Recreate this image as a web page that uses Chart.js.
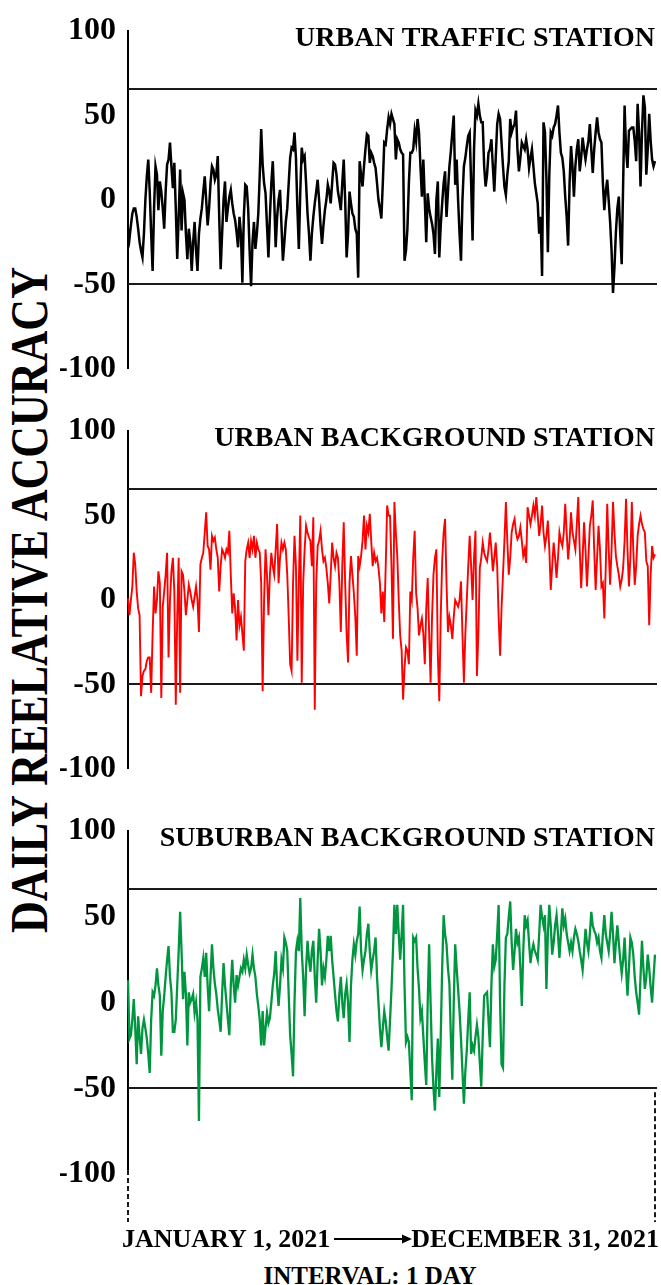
<!DOCTYPE html>
<html>
<head>
<meta charset="utf-8">
<script src="https://cdn.jsdelivr.net/npm/chart.js"></script>
<style>
  html, body { margin: 0; padding: 0; background: #fff; }
  #page { position: relative; width: 661px; height: 1285px; overflow: hidden; font-family: "Liberation Serif", "Times New Roman", serif; font-weight: bold; color: #000; }
  canvas { position: absolute; left: 60px; }
  #yTitle { position: absolute; left: 30px; top: 600px; font-size: 44px; line-height: 44px; white-space: nowrap; transform: translate(-50%, -50%) rotate(-90deg) scaleY(1.18); }
  .xText { position: absolute; font-size: 26px; line-height: 26px; white-space: nowrap; }
</style>
</head>
<body>
<div id="page">
  <canvas id="chart1" width="601" height="400" style="top:0px"></canvas>
  <canvas id="chart2" width="601" height="400" style="top:400px"></canvas>
  <canvas id="chart3" width="601" height="430" style="top:800px"></canvas>
  <div id="yTitle">DAILY REELATIVE ACCURACY</div>
  <div class="xText" id="xStart" style="left:122px; top:1226px">JANUARY 1, 2021</div>
  <svg style="position:absolute; left:334px; top:1232px" width="78" height="14">
    <line x1="0" y1="7" x2="70" y2="7" stroke="#000" stroke-width="2"></line>
    <polygon points="68,2.5 78,7 68,11.5" fill="#000"></polygon>
  </svg>
  <div class="xText" id="xEnd" style="right:2px; top:1226px">DECEMBER 31, 2021</div>
  <div class="xText" id="xInterval" style="left:370px; top:1263px; font-size:25px; transform:translateX(-50%)">INTERVAL: 1 DAY</div>
</div>
<script>
// daily relative accuracy, Jan 1 - Dec 31 2021
const urbanTraffic = [
  -17,-23,-15,-8,-5,-5,-10,-17,-25,-30,
  -34,-20,0,14,24,5,-20,-42,-5,20,
  15,-6,11,5,-5,-17,5,21,24,34,
  20,7,22,-5,-35,-10,18,-18,4,0,
  -20,-35,-17,-25,-42,-25,-13,-30,-42,-20,
  -11,-5,5,14,0,-15,-5,10,20,18,
  12,15,26,-10,-41,-20,0,11,-13,-5,
  2,6,-2,-8,-12,-19,-28,-10,-20,-49,
  -10,9,8,-5,-30,-51,-25,-13,-29,-20,
  -8,15,42,21,10,4,-15,-34,-10,10,
  23,0,-28,-10,0,6,-15,-36,-25,-13,
  -5,10,25,31,30,40,25,-5,-29,5,
  31,24,26,10,-8,-20,-36,-20,-10,-2,
  5,12,0,-15,-26,-15,-6,0,9,5,
  -2,10,22,21,15,5,0,-6,10,24,
  0,-34,-20,5,-2,-8,-10,-17,-20,-46,
  23,15,8,20,30,39,38,22,28,26,
  22,19,10,0,-5,-11,10,34,33,42,
  49,45,51,48,45,24,36,34,30,28,
  27,-36,-30,-17,10,28,28,30,41,35,
  48,40,20,2,24,0,-25,4,-5,-10,
  -14,-20,-32,0,11,-34,-15,-2,10,17,
  -10,5,20,29,40,50,9,24,0,-20,
  -36,0,20,25,32,38,40,10,-24,30,
  53,50,57,50,46,46,20,8,15,28,
  30,36,20,5,25,45,51,48,34,20,
  8,3,15,23,48,40,43,45,53,30,
  17,25,34,32,30,36,30,19,25,30,
  20,10,4,-2,-20,-10,-45,46,40,13,
  -31,15,40,38,43,45,50,56,40,28,
  25,17,2,-10,-27,10,32,20,2,20,
  30,36,17,25,37,30,24,30,35,45,
  30,16,30,40,49,40,36,34,10,-6,
  5,12,0,-13,-30,-55,-40,-19,-5,2,
  -20,-38,10,56,30,19,41,42,43,43,
  35,23,57,40,8,40,62,55,15,30,
  51,35,24,20,23
]

const urbanBackground = [
  1,-9,0,8,28,21,5,-5,-9,-57,
  -45,-42,-41,-36,-34,-34,-55,-20,8,-8,
  0,17,10,-58,-4,5,15,28,-34,0,
  17,25,5,-62,-10,25,-55,17,15,5,
  -9,0,9,5,0,-4,2,8,0,-19,
  21,25,28,40,52,32,30,18,38,35,
  37,30,25,5,20,30,28,25,30,28,
  41,15,-8,4,-5,-24,0,-15,-10,-20,
  -30,23,30,34,25,35,30,38,25,34,
  30,28,10,-54,0,30,15,-9,15,28,
  20,15,30,45,10,25,34,30,34,30,
  15,-10,-38,-42,10,38,20,-36,10,50,
  -49,10,30,44,40,37,35,20,49,-65,
  10,32,35,41,30,23,25,19,10,-2,
  15,34,25,20,28,25,10,-19,20,46,
  10,-20,-37,10,26,15,4,-10,-33,26,
  20,26,35,50,30,44,40,51,35,20,
  28,23,25,19,10,-8,5,-13,20,56,
  50,50,20,-23,58,40,26,0,-21,-30,
  -59,-40,-28,-30,-38,5,0,25,41,4,
  -5,-21,-15,-11,-20,-38,-5,13,-20,-49,
  -10,15,25,30,-32,-60,-10,23,40,48,
  10,-19,-10,-15,-23,-10,0,-2,-4,0,
  11,-20,-49,-20,0,20,38,20,0,25,
  41,-45,-20,19,25,34,28,25,23,30,
  40,30,17,25,34,20,-10,-33,-5,15,
  35,58,35,15,25,40,45,48,40,36,
  38,43,35,26,30,22,55,50,45,50,
  56,50,61,50,38,45,56,40,32,38,
  47,30,6,20,34,25,13,25,40,35,
  32,40,57,40,24,35,52,40,35,30,
  45,61,30,7,25,46,30,8,25,44,
  50,59,30,6,25,44,30,8,10,-11,
  20,57,30,9,30,58,40,26,20,15,
  8,12,19,35,60,30,8,25,58,30,
  9,20,38,45,50,45,42,40,23,20,
  -15,15,32,25,27
]

const suburbanBackground = [
  13,-21,-19,-10,2,-15,-36,-8,-20,-30,
  -15,-10,-15,-21,-30,-41,-10,6,4,10,
  20,10,4,-31,-5,4,15,25,33,15,
  6,-17,-17,-10,10,30,53,30,2,18,
  5,-25,6,0,2,5,-6,0,-10,-69,
  15,20,26,15,29,10,-5,15,34,20,
  11,5,-4,-10,-17,5,23,10,0,-10,
  -19,10,25,10,0,16,10,15,20,18,
  25,20,28,22,17,20,28,20,15,5,
  -2,-10,-25,-5,-25,-15,-6,-12,-9,0,
  10,17,30,10,-2,10,25,20,38,35,
  30,5,-19,-30,-43,0,30,36,30,61,
  30,15,-8,20,36,25,18,30,36,15,
  0,25,43,30,10,20,15,25,39,30,
  39,25,15,5,-5,-11,5,15,0,-9,
  5,11,0,-23,10,25,34,28,36,40,
  56,30,19,25,30,40,46,30,19,25,
  30,38,15,0,-15,-26,-15,-5,-11,-20,
  -28,-10,8,30,57,40,57,40,25,40,
  57,10,-23,-20,-23,-40,-57,38,36,38,
  20,8,-9,-5,-20,-35,-48,0,34,0,
  -32,-50,-63,-40,-21,-55,-20,20,51,40,
  34,20,11,-20,-45,0,34,20,8,-5,
  -21,-40,-59,-40,-28,-10,6,-30,-25,-28,
  -20,-13,-20,-35,-49,-20,4,5,6,-10,
  -26,10,34,21,25,40,57,0,-36,-38,
  10,38,40,50,59,35,19,30,43,35,
  38,20,-2,30,51,45,48,35,23,30,
  34,30,28,25,40,57,50,45,51,8,
  40,57,45,28,35,45,51,40,26,40,
  55,45,49,40,35,30,35,30,38,43,
  40,36,30,25,19,30,43,35,30,40,
  53,45,42,40,35,38,30,26,40,51,
  40,35,30,40,53,40,23,35,45,35,
  25,17,25,38,20,4,20,38,35,28,
  15,6,0,-7,15,36,20,8,15,28,
  20,9,0,15,28
]

const stationNames = ["URBAN TRAFFIC STATION", "URBAN BACKGROUND STATION", "SUBURBAN BACKGROUND STATION"]
const yTicks = [-100, -50, 0, 50, 100]
const limitLines = [66, -50]

// horizontal limit lines, station name, and the dashed start/end markers
const panelDecor = {
  id: 'panelDecor',
  beforeDatasetsDraw(chart, args, opts) {
    const ctx = chart.ctx
    const area = chart.chartArea
    const y = chart.scales.y
    ctx.save()
    ctx.strokeStyle = '#1a1a1a'
    ctx.lineWidth = 2
    limitLines.forEach(v => {
      const py = Math.round(y.getPixelForValue(v))
      ctx.beginPath()
      ctx.moveTo(area.left, py)
      ctx.lineTo(area.right + 2, py)
      ctx.stroke()
    })
    if (opts.dashed) {
      ctx.setLineDash([5, 3])
      ctx.beginPath()
      ctx.moveTo(area.left, area.bottom - 4)
      ctx.lineTo(area.left, chart.height - 8)
      ctx.moveTo(area.right, y.getPixelForValue(-50) + 4)
      ctx.lineTo(area.right, chart.height - 8)
      ctx.stroke()
    }
    ctx.restore()
  },
  afterDraw(chart, args, opts) {
    const ctx = chart.ctx
    const area = chart.chartArea
    ctx.save()
    ctx.font = 'bold 28px "Liberation Serif"'
    ctx.fillStyle = '#000'
    ctx.textAlign = 'right'
    ctx.textBaseline = 'middle'
    ctx.fillText(opts.title, area.right, area.top + 8)
    ctx.restore()
  }
}

function createPanel(id, values, color, width, title, padTop, padBottom, dashed) {
  new Chart(document.getElementById(id), {
    type: 'line',
    data: {
      labels: values.map((v, i) => i + 1),
      datasets: [{
        data: values,
        borderColor: color,
        borderWidth: width,
        pointRadius: 0,
        tension: 0,
        fill: false
      }]
    },
    options: {
      responsive: false,
      animation: false,
      layout: { padding: { top: padTop, bottom: padBottom, left: 0, right: 6 } },
      plugins: {
        legend: { display: false },
        tooltip: { enabled: false },
        panelDecor: { title: title, dashed: dashed }
      },
      scales: {
        x: { display: false },
        y: {
          min: -100,
          max: 100,
          afterFit: s => { s.width = 68 },
          afterBuildTicks: s => { s.ticks = yTicks.map(v => ({ value: v })) },
          grid: { display: false, drawTicks: false },
          border: { display: true, color: '#000', width: 2 },
          ticks: {
            color: '#000',
            padding: 12,
            font: { family: 'Liberation Serif', size: 32, weight: 'bold' }
          }
        }
      }
    },
    plugins: [panelDecor]
  })
}

createPanel('chart1', urbanTraffic, '#000000', 2.5, stationNames[0], 29, 22, false)
createPanel('chart2', urbanBackground, '#ff0000', 1.9, stationNames[1], 25, 25, false)
createPanel('chart3', suburbanBackground, '#00963f', 2.3, stationNames[2], 26, 56, true)
</script>
</body>
</html>
